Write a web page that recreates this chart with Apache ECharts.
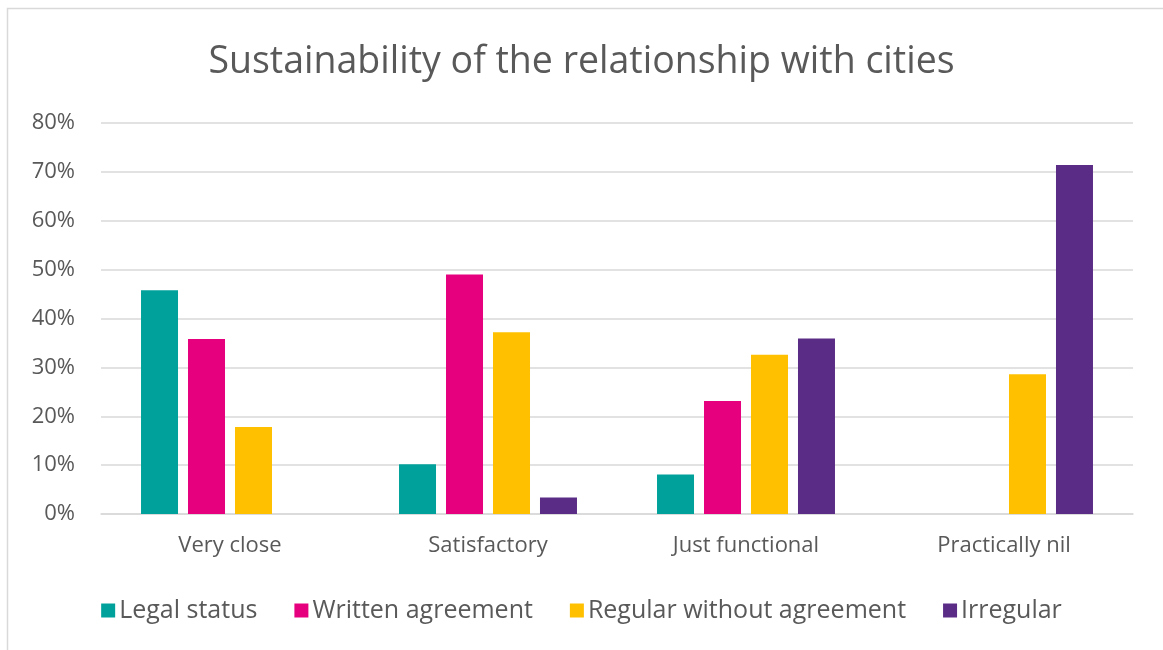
<!DOCTYPE html>
<html><head><meta charset="utf-8">
<script src="https://cdn.jsdelivr.net/npm/echarts@6/dist/echarts.min.js"></script>
<style>html,body{margin:0;padding:0;background:#fff}#c{width:1163px;height:650px}</style>
</head><body><div id="c"></div>
<script>
const categories = ['Very close', 'Satisfactory', 'Just functional', 'Practically nil'];
const legalStatus = [45.8, 10.2, 8.1, 0];
const writtenAgreement = [35.8, 49.0, 23.1, 0];
const regularWithoutAgreement = [17.8, 37.2, 32.6, 28.6];
const irregular = [0, 3.4, 35.9, 71.4];
const yTicks = [0, 10, 20, 30, 40, 50, 60, 70, 80];
const seriesNames = ['Legal status', 'Written agreement', 'Regular without agreement', 'Irregular'];
const colors = ['#00A19A', '#E6007E', '#FFC000', '#5B2C86'];
const F = '"Open Sans", sans-serif';
const chart = echarts.init(document.getElementById('c'));
const datas = [legalStatus, writtenAgreement, regularWithoutAgreement, irregular];
chart.setOption({
  animation: false,
  color: colors,
  graphic: [{type:'rect', shape:{x:7.5,y:8.5,width:1170,height:660}, style:{fill:null, stroke:'#d9d9d9', lineWidth:1.5}, silent:true}],
  title: {text:'Sustainability of the relationship with cities', left:'center', top:38,
    textStyle:{fontFamily:F, fontSize:37.5, fontWeight:'normal', color:'#595959'}},
  legend: {bottom:22, left:'center', itemWidth:14, itemHeight:14, itemGap:37, icon:'rect',
    textStyle:{fontFamily:F, fontSize:25, color:'#595959', padding:[0,0,0,-1]}, data: seriesNames},
  grid: {left:101, right:30, top:123, bottom:136},
  xAxis: {type:'category', data:categories, axisTick:{show:false},
    axisLine:{lineStyle:{color:'#d9d9d9', width:1.5}},
    axisLabel:{fontFamily:F, fontSize:22, color:'#595959', margin:21}},
  yAxis: {type:'value', min:0, max:80, interval:10,
    axisLabel:{fontFamily:F, fontSize:22, color:'#595959', margin:26, formatter: v => yTicks.includes(v) ? v + '%' : ''},
    splitLine:{lineStyle:{color:'#d9d9d9', width:1.5}}, axisLine:{show:false}, axisTick:{show:false}},
  series: datas.map((d,i)=>({name:seriesNames[i], type:'bar', data:d, barWidth:37, barGap:'27%', barCategoryGap:'30%'}))
});
</script></body></html>
